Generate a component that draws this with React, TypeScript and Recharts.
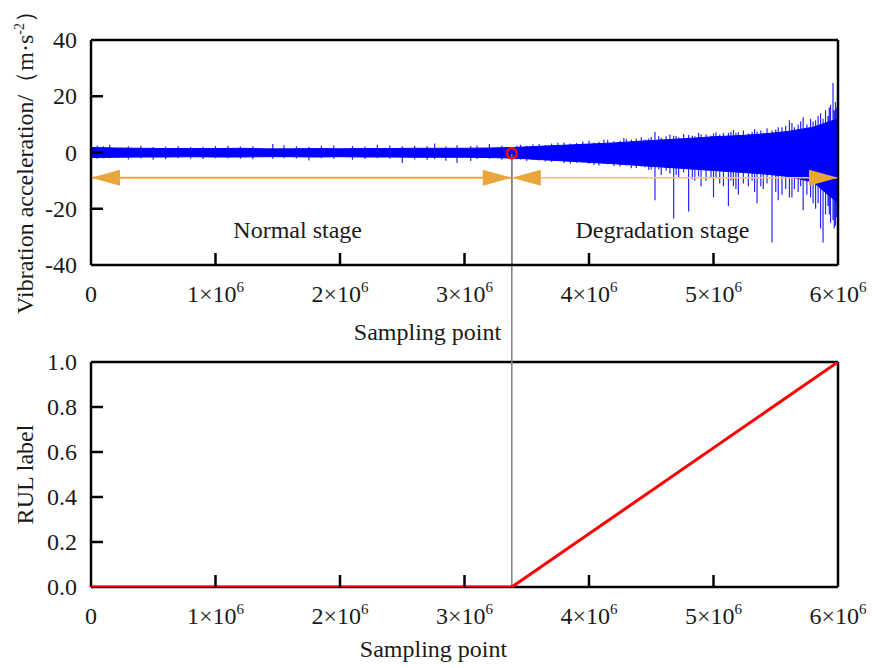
import {
  Area,
  ComposedChart,
  Label,
  Line,
  ReferenceDot,
  ReferenceLine,
  XAxis,
  YAxis,
} from "recharts";

const W = 872;
const H = 668;
const FONT = '"Liberation Serif", "Times New Roman", Times, serif';
const FS = 24;

const xTicks = [0, 1e6, 2e6, 3e6, 4e6, 5e6, 6e6];
const accelTicks = [-40, -20, 0, 20, 40];
const rulTicks = [0, 0.2, 0.4, 0.6, 0.8, 1.0];

// start of degradation stage (sampling point)
const changePoint = 3.38e6;
const arrowLevel = -9;

// dense core of the vibration band, x in millions of samples
const envX = [0, 0.2, 0.4, 0.6, 0.8, 1.0, 1.2, 1.4, 1.6, 1.8, 2.0, 2.2, 2.4, 2.6, 2.8, 3.0, 3.2, 3.4, 3.6, 3.8, 4.0, 4.2, 4.4, 4.6, 4.8, 5.0, 5.2, 5.4, 5.6, 5.8, 6.0];
const envHi = [1.8, 1.6, 1.5, 1.4, 1.4, 1.4, 1.5, 1.3, 1.3, 1.4, 1.3, 1.4, 1.4, 1.5, 1.5, 1.5, 1.6, 1.8, 2.2, 2.6, 3.0, 3.4, 4.0, 4.5, 5.0, 5.6, 6.0, 6.6, 7.5, 9.0, 12];
const envLo = [-1.8, -1.7, -1.6, -1.6, -1.5, -1.6, -1.6, -1.5, -1.5, -1.6, -1.5, -1.6, -1.6, -1.7, -1.7, -1.7, -1.8, -2.0, -2.5, -3.0, -3.5, -4.0, -4.6, -5.2, -5.8, -6.4, -7.0, -7.6, -8.5, -10.5, -18];

// individual peaks sticking out of the band
const spikeX = [
  0.05, 0.1, 0.15, 0.3, 0.4, 0.5, 0.6, 0.7, 0.8, 0.9, 1.0, 1.1, 1.2, 1.3, 1.46, 1.55, 1.65, 1.75, 1.85, 1.95, 2.1, 2.2, 2.3, 2.4, 2.5, 2.6, 2.7, 2.76, 2.85, 2.94, 3.05, 3.1, 3.2, 3.3,
  3.42, 3.45, 3.5, 3.55, 3.6, 3.65, 3.7, 3.75, 3.8, 3.85, 3.9, 3.95, 4.0, 4.04, 4.08, 4.12, 4.15, 4.2, 4.25, 4.28, 4.3, 4.34, 4.38, 4.42, 4.45, 4.48,
  4.5, 4.53, 4.56, 4.58, 4.62, 4.65, 4.68, 4.7, 4.72, 4.76, 4.8, 4.83, 4.85, 4.88, 4.9, 4.94, 4.98, 5.0, 5.02, 5.05, 5.08, 5.12, 5.14, 5.16, 5.18,
  5.2, 5.24, 5.28, 5.31, 5.33, 5.35, 5.38, 5.4, 5.43, 5.47, 5.5, 5.52, 5.55, 5.58, 5.61, 5.63, 5.65, 5.68, 5.7, 5.72, 5.75, 5.78, 5.8, 5.82, 5.84,
  5.86, 5.88, 5.9, 5.92, 5.93, 5.94, 5.96, 5.97, 5.98, 5.99, 6.0,
];
const spikeHi = [
  2.5, 2.2, 2.8, 2.2, 2.4, 2.0, 2.1, 2.3, 2.0, 2.0, 2.3, 2.4, 2.1, 2.2, 3.0, 2.6, 2.2, 2.0, 2.4, 2.5, 2.3, 2.1, 2.8, 2.5, 2.2, 2.4, 2.2, 3.2, 2.1, 2.6, 2.3, 2.5, 3.0, 2.4,
  2.4, 2.8, 2.4, 2.9, 3.0, 2.7, 3.2, 3.5, 3.6, 3.2, 3.4, 3.9, 4.2, 3.6, 3.8, 4.6, 4.5, 4.0, 4.2, 5.2, 4.8, 4.6, 5.0, 5.4, 4.6, 5.0,
  5.5, 7.3, 5.8, 5.2, 5.8, 6.4, 6.0, 5.9, 5.4, 6.6, 6.2, 6.0, 5.8, 7.0, 6.5, 6.4, 6.0, 6.8, 7.2, 6.4, 6.9, 7.0, 7.4, 8.0, 7.0,
  7.2, 7.8, 6.8, 7.4, 8.4, 7.5, 7.8, 7.0, 8.6, 7.8, 8.2, 9.0, 9.0, 9.5, 11.5, 10.5, 9.0, 10, 11, 12.5, 10, 12, 11, 11.5, 13,
  14, 12, 15, 13, 16, 17, 24.7, 15, 18, 16, 14,
];
const spikeLo = [
  -2.2, -2.0, -2.0, -2.5, -2.1, -2.6, -2.4, -2.0, -2.2, -2.3, -2.0, -2.1, -2.2, -2.4, -2.2, -2.0, -2.1, -2.8, -2.0, -2.2, -2.6, -2.3, -2.0, -2.2, -3.7, -2.5, -2.6, -2.4, -2.9, -3.7, -3.0, -2.3, -2.2, -2.6,
  -2.4, -2.6, -3.0, -2.7, -2.8, -3.2, -3.4, -3.0, -3.8, -4.0, -3.6, -3.5, -4.0, -4.4, -4.6, -4.0, -4.2, -4.8, -5.0, -4.4, -4.6, -5.6, -5.5, -5.0, -5.2, -6.2,
  -6.0, -17, -6.0, -8, -6.5, -7.5, -23.5, -8, -9, -7, -21, -9.5, -10, -8.5, -12, -10, -9, -16, -9, -11, -12, -19, -10, -12, -13,
  -15, -11, -12, -10, -14, -18, -12, -13, -11, -32, -14, -17, -15, -13, -16, -16, -13, -14, -12, -20.5, -15, -16, -18, -20, -18,
  -27, -32, -22, -19, -22, -25, -24, -27, -26, -23, -22,
];

const rulX = [0, 3.38, 6];
const rulY = [0, 0, 1];

const bandData = envX.map((x, i) => ({ x: x * 1e6, band: [envLo[i], envHi[i]] }));
// each peak is its own vertical stroke; the null breaks the line between peaks
const spikeData = spikeX.flatMap((x, i) => [
  { x: x * 1e6, v: spikeHi[i] },
  { x: x * 1e6, v: spikeLo[i] },
  { x: x * 1e6, v: null },
]);
const rulData = rulX.map((x, i) => ({ x: x * 1e6, rul: rulY[i] }));

const textStyle = { style: { fontFamily: FONT, fontSize: FS }, fill: "#1a1a1a" };

function XTick(props: any) {
  const { x, y, payload } = props;
  const n = Math.round(payload.value / 1e6);
  return (
    <g>
      {n > 0 && n < 6 && <line x1={x} y1={y} x2={x} y2={y - 12} stroke="#000" strokeWidth={2.5} />}
      <text x={x} y={y + 37} textAnchor="middle" {...textStyle}>
        {n === 0 ? (
          "0"
        ) : (
          <>
            {`${n}×10`}
            <tspan dy={-10} style={{ fontSize: 15 }}>6</tspan>
          </>
        )}
      </text>
    </g>
  );
}

function makeYTick(ends: number[], fmt: (v: number) => string) {
  return (props: any) => {
    const { x, y, payload } = props;
    const v = payload.value;
    return (
      <g>
        {!ends.includes(v) && <line x1={x} y1={y} x2={x + 12} y2={y} stroke="#000" strokeWidth={2.5} />}
        <text x={x - 14} y={y} dy={8} textAnchor="end" {...textStyle}>
          {fmt(v)}
        </text>
      </g>
    );
  };
}

const arrowLeft = (color: string) => (p: any) => (
  <polygon points={`${p.cx},${p.cy} ${p.cx + 29},${p.cy - 8} ${p.cx + 29},${p.cy + 8}`} fill={color} />
);
const arrowRight = (color: string) => (p: any) => (
  <polygon points={`${p.cx},${p.cy} ${p.cx - 29},${p.cy - 8} ${p.cx - 29},${p.cy + 8}`} fill={color} />
);
const stageText = (text: string) => (p: any) => (
  <text x={p.cx} y={p.cy} dy={8} textAnchor="middle" {...textStyle}>
    {text}
  </text>
);

const GOLD = "#E9A63A";
const axisLine = { stroke: "#000", strokeWidth: 2.5 };

export default function App() {
  return (
    <div style={{ position: "absolute", left: 0, top: 0, width: W, height: H, background: "#fff" }}>
      {/* RUL label chart (bottom) */}
      <div style={{ position: "absolute", left: 0, top: 0 }}>
        <ComposedChart width={W} height={H} margin={{ top: 362, right: 34, bottom: 41, left: 31 }}>
          <XAxis
            dataKey="x"
            type="number"
            domain={[0, 6e6]}
            ticks={xTicks}
            tick={XTick}
            tickSize={0}
            tickMargin={0}
            tickLine={false}
            axisLine={axisLine}
            height={40}
            allowDataOverflow
          >
            <Label
              content={(p: any) => (
                <text x={p.viewBox.x + p.viewBox.width / 2 - 31} y={p.viewBox.y + 70} textAnchor="middle" {...textStyle}>
                  Sampling point
                </text>
              )}
            />
          </XAxis>
          <YAxis
            type="number"
            domain={[0, 1]}
            ticks={rulTicks}
            tick={makeYTick([0, 1], (v) => v.toFixed(1))}
            tickSize={0}
            tickMargin={0}
            tickLine={false}
            axisLine={axisLine}
            width={60}
            allowDataOverflow
          >
            <Label
              content={(p: any) => {
                const cx = 33;
                const cy = p.viewBox.y + p.viewBox.height / 2;
                return (
                  <text x={cx} y={cy} transform={`rotate(-90, ${cx}, ${cy})`} textAnchor="middle" {...textStyle}>
                    RUL label
                  </text>
                );
              }}
            />
          </YAxis>
          <ReferenceLine y={1} stroke="#000" strokeWidth={2.5} />
          <ReferenceLine x={6e6} stroke="#000" strokeWidth={2.5} />
          <ReferenceLine
            segment={[
              { x: changePoint, y: 0 },
              { x: changePoint, y: 1.92 },
            ]}
            stroke="#808080"
            strokeWidth={1.5}
            ifOverflow="visible"
          />
          <Line
            data={rulData}
            dataKey="rul"
            type="linear"
            stroke="#FF0000"
            strokeWidth={3}
            dot={false}
            zIndex={900}
            isAnimationActive={false}
          />
        </ComposedChart>
      </div>

      {/* vibration chart (top) */}
      <div style={{ position: "absolute", left: 0, top: 0 }}>
        <ComposedChart width={W} height={H} margin={{ top: 40, right: 34, bottom: 363, left: 31 }}>
          <XAxis
            dataKey="x"
            type="number"
            domain={[0, 6e6]}
            ticks={xTicks}
            tick={XTick}
            tickSize={0}
            tickMargin={0}
            tickLine={false}
            axisLine={axisLine}
            height={40}
            allowDataOverflow
          >
            <Label
              content={(p: any) => (
                <text x={p.viewBox.x + p.viewBox.width / 2 - 37} y={p.viewBox.y + 75} textAnchor="middle" {...textStyle}>
                  Sampling point
                </text>
              )}
            />
          </XAxis>
          <YAxis
            type="number"
            domain={[-40, 40]}
            ticks={accelTicks}
            tick={makeYTick([-40, 40], (v) => String(v))}
            tickSize={0}
            tickMargin={0}
            tickLine={false}
            axisLine={axisLine}
            width={60}
            allowDataOverflow
          >
            <Label
              content={(p: any) => {
                const cx = 33;
                const cy = p.viewBox.y + p.viewBox.height / 2 + 4;
                return (
                  <text x={cx} y={cy} transform={`rotate(-90, ${cx}, ${cy})`} textAnchor="middle" {...textStyle}>
                    Vibration acceleration/（m·s
                    <tspan dy={-9} style={{ fontSize: 14 }}>-2</tspan>
                    <tspan dy={9}>）</tspan>
                  </text>
                );
              }}
            />
          </YAxis>
          <Area
            data={bandData}
            dataKey="band"
            type="linear"
            stroke="#0000FF"
            strokeWidth={1}
            fill="#0000FF"
            fillOpacity={1}
            isAnimationActive={false}
          />
          <Line
            data={spikeData}
            dataKey="v"
            type="linear"
            stroke="#0000FF"
            strokeWidth={1.2}
            strokeOpacity={0.85}
            dot={false}
            connectNulls={false}
            isAnimationActive={false}
          />
          <ReferenceLine
            segment={[
              { x: 0, y: arrowLevel },
              { x: changePoint, y: arrowLevel },
            ]}
            stroke={GOLD}
            strokeWidth={2}
          />
          <ReferenceLine
            segment={[
              { x: changePoint, y: arrowLevel },
              { x: 6e6, y: arrowLevel },
            ]}
            stroke="#F2C572"
            strokeWidth={1.5}
          />
          <ReferenceLine
            segment={[
              { x: changePoint, y: -0.5 },
              { x: changePoint, y: -40 },
            ]}
            stroke="#808080"
            strokeWidth={1.5}
          />
          <ReferenceLine y={40} stroke="#000" strokeWidth={2.5} />
          <ReferenceLine x={6e6} stroke="#000" strokeWidth={2.5} />
          <ReferenceDot x={0} y={arrowLevel} r={0} shape={arrowLeft(GOLD)} ifOverflow="visible" />
          <ReferenceDot x={changePoint} y={arrowLevel} r={0} shape={arrowRight(GOLD)} ifOverflow="visible" />
          <ReferenceDot x={changePoint} y={arrowLevel} r={0} shape={arrowLeft(GOLD)} ifOverflow="visible" />
          <ReferenceDot x={6e6} y={arrowLevel} r={0} shape={arrowRight(GOLD)} ifOverflow="visible" />
          <ReferenceDot x={changePoint} y={-0.3} r={5} fill="none" stroke="#FF0000" strokeWidth={2.5} ifOverflow="visible" />
          <ReferenceDot x={1.66e6} y={-27.6} r={0} shape={stageText("Normal stage")} ifOverflow="visible" />
          <ReferenceDot x={4.59e6} y={-27.6} r={0} shape={stageText("Degradation stage")} ifOverflow="visible" />
        </ComposedChart>
      </div>
    </div>
  );
}
